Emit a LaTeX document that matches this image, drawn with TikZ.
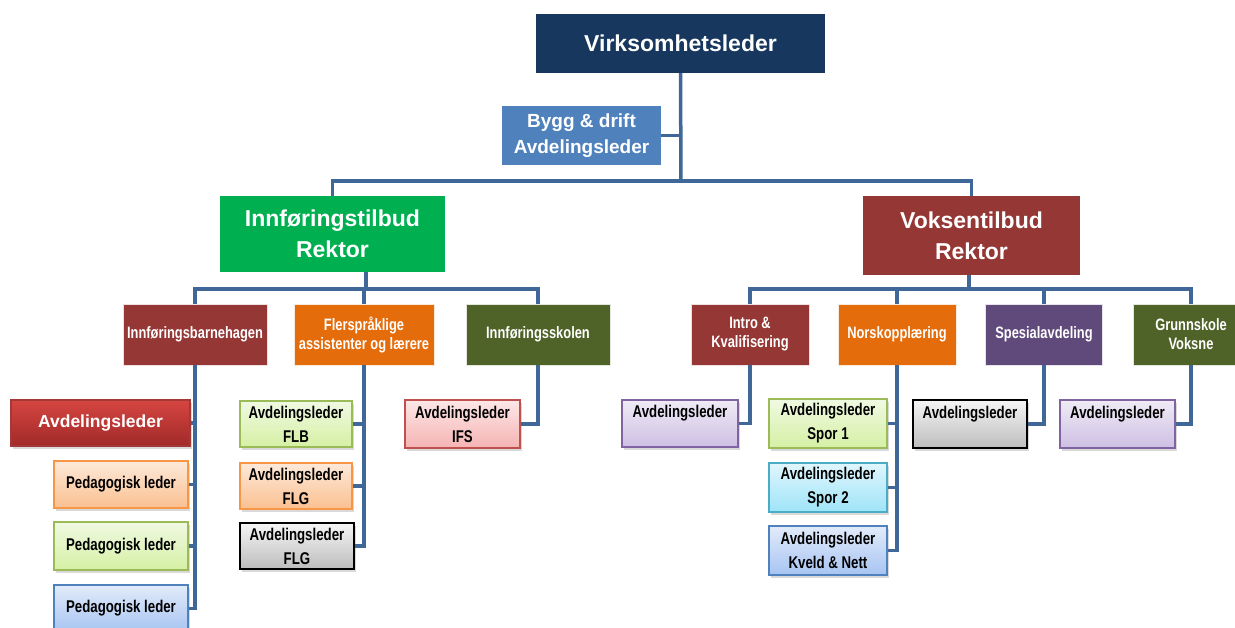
\documentclass[tikz,border=0pt]{standalone}
\usepackage{fontspec}
\setmainfont{Liberation Sans}
\newfontfamily\narrowfont{Liberation Sans}[FakeStretch=0.78]
\usetikzlibrary{shadows}

\definecolor{navy}{HTML}{17375E}
\definecolor{byggblue}{HTML}{4F81BD}
\definecolor{rektorgreen}{HTML}{00B050}
\definecolor{darkred}{HTML}{953735}
\definecolor{unitorange}{HTML}{E46C0A}
\definecolor{olive}{HTML}{4F6228}
\definecolor{unitpurple}{HTML}{604A7B}
\definecolor{linkblue}{HTML}{3F6798}
% leader box colours: border, top, bottom
\definecolor{redline}{HTML}{A33836}\definecolor{redtop}{HTML}{D64541}\definecolor{redbot}{HTML}{A02A29}
\definecolor{peachline}{HTML}{F79646}\definecolor{peachtop}{HTML}{FDE9D9}\definecolor{peachbot}{HTML}{FAC090}
\definecolor{greenline}{HTML}{9BBB59}\definecolor{greentop}{HTML}{F0F9E2}\definecolor{greenbot}{HTML}{D5F0A4}
\definecolor{blueline}{HTML}{4F81BD}\definecolor{bluetop}{HTML}{E2EBFA}\definecolor{bluebot}{HTML}{A7C4F2}
\definecolor{cyanline}{HTML}{4BACC6}\definecolor{cyantop}{HTML}{E0F6FD}\definecolor{cyanbot}{HTML}{9EE4F8}
\definecolor{pinkline}{HTML}{C0504D}\definecolor{pinktop}{HTML}{FDE7E7}\definecolor{pinkbot}{HTML}{F5B3B3}
\definecolor{lilacline}{HTML}{8064A2}\definecolor{lilactop}{HTML}{F0EBF6}\definecolor{lilacbot}{HTML}{CDBFE3}
\definecolor{greytop}{HTML}{F5F5F5}\definecolor{greybot}{HTML}{BDBDBD}

\begin{document}
\begin{tikzpicture}[x=1pt,y=-1pt,
  conn/.style={draw=linkblue,line width=3.5pt},
  head/.style={rectangle,fill=#1,text=white,align=center,inner sep=0pt},
  unit/.style={rectangle,fill=#1,draw=white!85!#1,line width=0.6pt,text=white,align=center,inner sep=0pt,
    minimum height=61pt,font=\narrowfont\bfseries\fontsize{16.5}{19}\selectfont},
  leader/.style n args={3}{rectangle,draw=#1,line width=1.4pt,top color=#2,bottom color=#3,
    align=center,inner sep=0pt,font=\narrowfont\bfseries\fontsize{17}{24}\selectfont,
    drop shadow={opacity=0.3,shadow xshift=2pt,shadow yshift=-3pt}}]
\useasboundingbox (0,0) rectangle (1235,628);

% top levels
\node[head=navy,minimum width=289pt,minimum height=59pt,font=\bfseries\fontsize{23}{28}\selectfont] (virk) at (680.5,43.5) {Virksomhetsleder};
\node[head=byggblue,minimum width=159pt,minimum height=59pt,font=\bfseries\fontsize{19}{26}\selectfont] (bygg) at (581.5,135.5) {Bygg \& drift\\Avdelingsleder};
\node[head=rektorgreen,minimum width=225pt,minimum height=76pt,font=\bfseries\fontsize{23}{31}\selectfont] (inn) at (332.5,234) {Innføringstilbud\\Rektor};
\node[head=darkred,minimum width=217pt,minimum height=79pt,font=\bfseries\fontsize{23}{31}\selectfont] (vok) at (971.5,235.5) {Voksentilbud\\Rektor};

% units
\node[unit=darkred,minimum width=144pt] (barn) at (195,334.5) {Innføringsbarnehagen};
\node[unit=unitorange,minimum width=140pt] (fler) at (364,334.5) {Flerspråklige\\assistenter og lærere};
\node[unit=olive,minimum width=144pt] (skol) at (538,334.5) {Innføringsskolen};
\node[unit=darkred,minimum width=118pt] (intro) at (750,334.5) {Intro \&\\Kvalifisering};
\node[unit=unitorange,minimum width=118pt] (norsk) at (897,334.5) {Norskopplæring};
\node[unit=unitpurple,minimum width=117pt] (spes) at (1044,334.5) {Spesialavdeling};
\node[unit=olive,minimum width=116pt] (grunn) at (1191,334.5) {Grunnskole\\Voksne};

% leaders
\node[leader={redline}{redtop}{redbot},text=white,minimum width=179pt,minimum height=46pt,
  font=\bfseries\fontsize{17.5}{20}\selectfont] (bhAvd) at (100.5,423) {Avdelingsleder};
\node[leader={peachline}{peachtop}{peachbot},minimum width=134pt,minimum height=47pt] (bhPed1) at (121,484.5) {Pedagogisk leder};
\node[leader={greenline}{greentop}{greenbot},minimum width=134pt,minimum height=48pt] (bhPed2) at (121,546) {Pedagogisk leder};
\node[leader={blueline}{bluetop}{bluebot},minimum width=134pt,minimum height=47pt] (bhPed3) at (121,608.5) {Pedagogisk leder};

\node[leader={greenline}{greentop}{greenbot},minimum width=112pt,minimum height=46pt] (flFLB) at (296,424) {Avdelingsleder\\FLB};
\node[leader={peachline}{peachtop}{peachbot},minimum width=112pt,minimum height=46pt] (flFLG) at (296,486) {Avdelingsleder\\FLG};
\node[leader={black}{greytop}{greybot},minimum width=114pt,minimum height=46pt] (flFLGb) at (297,546) {Avdelingsleder\\FLG};

\node[leader={pinkline}{pinktop}{pinkbot},minimum width=115pt,minimum height=48pt] (skIFS) at (462.5,424) {Avdelingsleder\\IFS};

\node[leader={lilacline}{lilactop}{lilacbot},minimum width=116pt,minimum height=47pt] (inAvd) at (680,423.5) {Avdelingsleder\\\mbox{}};
\node[leader={greenline}{greentop}{greenbot},minimum width=118pt,minimum height=49pt] (noSp1) at (828,423.5) {Avdelingsleder\\Spor 1};
\node[leader={cyanline}{cyantop}{cyanbot},minimum width=118pt,minimum height=49pt] (noSp2) at (828,487.5) {Avdelingsleder\\Spor 2};
\node[leader={blueline}{bluetop}{bluebot},minimum width=118pt,minimum height=49pt] (noKN) at (828,550.5) {Avdelingsleder\\Kveld \& Nett};
\node[leader={black}{greytop}{greybot},minimum width=114pt,minimum height=48pt] (spAvd) at (970,424) {Avdelingsleder\\\mbox{}};
\node[leader={lilacline}{lilactop}{lilacbot},minimum width=115pt,minimum height=48pt] (grAvd) at (1117.5,424) {Avdelingsleder\\\mbox{}};

% connectors
\coordinate (topbus) at (681,181);
\coordinate (innbus) at (366,289);
\coordinate (vokbus) at (969,289);
\draw[conn] (virk.south) -- (topbus);
\draw[conn] (bygg.east) -- (bygg.east -| virk.south);
\draw[conn] (inn.north) |- (topbus) -| (vok.north);

\draw[conn] (inn.south -| innbus) -- (innbus);
\draw[conn] (barn.north) |- (innbus) -| (skol.north);
\draw[conn] (fler.north) -- (fler.north |- innbus);
\draw[conn] (vok.south -| vokbus) -- (vokbus);
\draw[conn] (intro.north) |- (vokbus) -| (grunn.north);
\draw[conn] (norsk.north) -- (norsk.north |- vokbus);
\draw[conn] (spes.north) -- (spes.north |- vokbus);

\draw[conn] (barn.south) |- (bhPed3.east);
\draw[conn] (bhAvd.east) -- (bhAvd.east -| barn.south);
\draw[conn] (bhPed1.east) -- (bhPed1.east -| barn.south);
\draw[conn] (bhPed2.east) -- (bhPed2.east -| barn.south);
\draw[conn] (fler.south) |- (flFLGb.east);
\draw[conn] (flFLB.east) -- (flFLB.east -| fler.south);
\draw[conn] (flFLG.east) -- (flFLG.east -| fler.south);
\draw[conn] (skol.south) |- (skIFS.east);
\draw[conn] (intro.south) |- (inAvd.east);
\draw[conn] (norsk.south) |- (noKN.east);
\draw[conn] (noSp1.east) -- (noSp1.east -| norsk.south);
\draw[conn] (noSp2.east) -- (noSp2.east -| norsk.south);
\draw[conn] (spes.south) |- (spAvd.east);
\draw[conn] (grunn.south) |- (grAvd.east);
\end{tikzpicture}
\end{document}
